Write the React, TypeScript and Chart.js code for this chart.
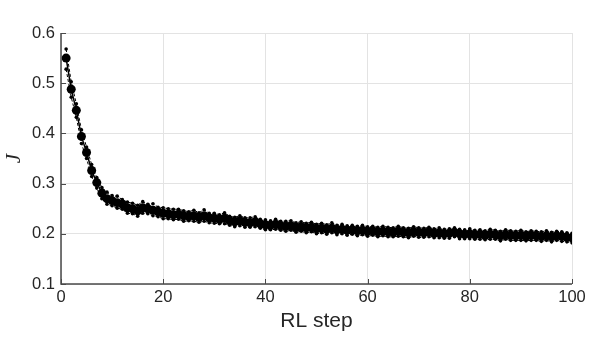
import React, { useEffect, useRef } from "react";
import { Chart, registerables } from "chart.js";

Chart.register(...registerables);

const steps: number[] = Array.from({ length: 100 }, (_, i) => i + 1);

const meanJ: number[] = [
  0.550, 0.488, 0.446, 0.394, 0.362, 0.326, 0.302, 0.281, 0.270, 0.266,
  0.262, 0.259, 0.252, 0.250, 0.246, 0.252, 0.250, 0.247, 0.244, 0.241,
  0.240, 0.238, 0.239, 0.236, 0.235, 0.236, 0.233, 0.236, 0.232, 0.231,
  0.229, 0.231, 0.226, 0.224, 0.226, 0.223, 0.222, 0.224, 0.220, 0.218,
  0.217, 0.219, 0.216, 0.215, 0.216, 0.213, 0.214, 0.212, 0.213, 0.210,
  0.211, 0.209, 0.211, 0.208, 0.209, 0.207, 0.208, 0.206, 0.207, 0.205,
  0.206, 0.204, 0.205, 0.204, 0.203, 0.205, 0.203, 0.202, 0.204, 0.203,
  0.202, 0.204, 0.201, 0.202, 0.200, 0.201, 0.203, 0.200, 0.199, 0.200,
  0.198, 0.199, 0.197, 0.199, 0.198, 0.196, 0.198, 0.197, 0.196, 0.197,
  0.195, 0.197, 0.196, 0.195, 0.196, 0.194, 0.196, 0.195, 0.193, 0.192,
];

const upperJ: number[] = [
  0.568, 0.503, 0.459, 0.407, 0.373, 0.338, 0.312, 0.292, 0.283, 0.276,
  0.275, 0.268, 0.263, 0.261, 0.257, 0.264, 0.259, 0.260, 0.253, 0.252,
  0.250, 0.249, 0.249, 0.246, 0.244, 0.247, 0.242, 0.248, 0.241, 0.241,
  0.238, 0.242, 0.235, 0.233, 0.236, 0.232, 0.232, 0.234, 0.229, 0.228,
  0.226, 0.229, 0.225, 0.225, 0.226, 0.222, 0.224, 0.221, 0.223, 0.219,
  0.221, 0.218, 0.222, 0.217, 0.219, 0.216, 0.217, 0.215, 0.217, 0.214,
  0.215, 0.213, 0.215, 0.213, 0.212, 0.215, 0.212, 0.211, 0.214, 0.212,
  0.211, 0.213, 0.210, 0.212, 0.209, 0.210, 0.212, 0.209, 0.208, 0.210,
  0.207, 0.208, 0.206, 0.209, 0.207, 0.205, 0.208, 0.206, 0.205, 0.207,
  0.204, 0.206, 0.205, 0.204, 0.206, 0.203, 0.205, 0.204, 0.202, 0.201,
];

const lowerJ: number[] = [
  0.528, 0.472, 0.432, 0.380, 0.350, 0.314, 0.291, 0.270, 0.259, 0.256,
  0.251, 0.249, 0.241, 0.240, 0.235, 0.241, 0.240, 0.236, 0.234, 0.230,
  0.230, 0.228, 0.229, 0.225, 0.226, 0.225, 0.223, 0.225, 0.222, 0.221,
  0.220, 0.220, 0.217, 0.214, 0.216, 0.213, 0.213, 0.214, 0.211, 0.208,
  0.208, 0.209, 0.207, 0.205, 0.207, 0.203, 0.205, 0.202, 0.204, 0.200,
  0.202, 0.199, 0.202, 0.198, 0.200, 0.197, 0.199, 0.196, 0.198, 0.195,
  0.197, 0.194, 0.196, 0.194, 0.194, 0.195, 0.194, 0.192, 0.195, 0.193,
  0.193, 0.194, 0.192, 0.192, 0.191, 0.191, 0.194, 0.190, 0.190, 0.190,
  0.189, 0.189, 0.188, 0.189, 0.189, 0.186, 0.189, 0.187, 0.187, 0.187,
  0.186, 0.187, 0.187, 0.185, 0.187, 0.184, 0.187, 0.185, 0.184, 0.182,
];

const xTicks: number[] = [0, 20, 40, 60, 80, 100];
const yTicks: number[] = [0.1, 0.2, 0.3, 0.4, 0.5, 0.6];

const AXIS_COLOR = "#4a4a4a";
const GRID_COLOR = "#e3e3e3";
const TEXT_COLOR = "#262626";
const SANS = "'Liberation Sans', Arial, Helvetica, sans-serif";

const innerTicks = {
  id: "innerTicks",
  afterDatasetsDraw(chart: any) {
    const { ctx, chartArea, scales } = chart;
    const x = scales.x;
    const y = scales.y;
    ctx.save();
    ctx.strokeStyle = AXIS_COLOR;
    ctx.lineWidth = 1;
    ctx.beginPath();
    for (const v of xTicks) {
      const px = Math.round(x.getPixelForValue(v)) + 0.5;
      ctx.moveTo(px, chartArea.bottom);
      ctx.lineTo(px, chartArea.bottom - 5);
    }
    for (const v of yTicks) {
      const py = Math.round(y.getPixelForValue(v)) + 0.5;
      ctx.moveTo(chartArea.left, py);
      ctx.lineTo(chartArea.left + 5, py);
    }
    ctx.stroke();
    ctx.lineWidth = 1.5;
    ctx.beginPath();
    ctx.moveTo(chartArea.left, chartArea.top);
    ctx.lineTo(chartArea.left, chartArea.bottom);
    ctx.lineTo(chartArea.right, chartArea.bottom);
    ctx.stroke();
    ctx.restore();
  },
};

export default function App() {
  const canvasRef = useRef<HTMLCanvasElement | null>(null);

  useEffect(() => {
    document.body.style.margin = "0";
    const canvas = canvasRef.current;
    if (!canvas) return;
    const toPts = (arr: number[]) => steps.map((s, i) => ({ x: s, y: arr[i] }));
    const chart = new Chart(canvas, {
      type: "line",
      data: {
        datasets: [
          {
            label: "upper",
            data: toPts(upperJ),
            borderColor: "#000",
            backgroundColor: "#000",
            borderWidth: 1,
            borderDash: [3, 2],
            pointRadius: 1.8,
            pointBorderWidth: 0,
          },
          {
            label: "lower",
            data: toPts(lowerJ),
            borderColor: "#000",
            backgroundColor: "#000",
            borderWidth: 1,
            borderDash: [3, 2],
            pointRadius: 1.8,
            pointBorderWidth: 0,
          },
          {
            label: "mean",
            data: toPts(meanJ),
            borderColor: "#000",
            backgroundColor: "#000",
            borderWidth: 1.5,
            pointRadius: 4.5,
            pointBorderWidth: 0,
          },
        ],
      },
      options: {
        responsive: false,
        animation: false,
        layout: { padding: { top: 33, right: 26, left: 0, bottom: 20 } },
        plugins: {
          legend: { display: false },
          tooltip: { enabled: false },
        },
        scales: {
          x: {
            type: "linear",
            min: 0,
            max: 100,
            afterBuildTicks: (scale: any) => {
              scale.ticks = xTicks.map((v) => ({ value: v }));
            },
            afterFit: (scale: any) => {
              scale.height = 50;
            },
            grid: { color: GRID_COLOR, drawTicks: false, lineWidth: 1 },
            border: { display: false },
            ticks: {
              color: TEXT_COLOR,
              font: { family: SANS, size: 16.5 },
              padding: 4,
              maxRotation: 0,
            },
            title: {
              display: true,
              text: "RL step",
              color: TEXT_COLOR,
              font: { family: SANS, size: 21 },
              padding: { top: 0, bottom: 0 },
            },
          },
          y: {
            type: "linear",
            min: 0.1,
            max: 0.6,
            afterBuildTicks: (scale: any) => {
              scale.ticks = yTicks.map((v) => ({ value: v }));
            },
            afterFit: (scale: any) => {
              scale.width = 61;
            },
            grid: { color: GRID_COLOR, drawTicks: false, lineWidth: 1 },
            border: { display: false },
            ticks: {
              color: TEXT_COLOR,
              font: { family: SANS, size: 16.5 },
              padding: 6,
              callback: (v: any) => Number(v).toFixed(1),
            },
            title: {
              display: true,
              text: "J",
              color: TEXT_COLOR,
              font: { family: "'Liberation Serif', 'Times New Roman', serif", size: 21, style: "italic" },
              padding: { top: 2, bottom: 0 },
            },
          },
        },
      },
      plugins: [innerTicks],
    });
    return () => chart.destroy();
  }, []);

  return (
    <div style={{ position: "absolute", left: 0, top: 0, width: 598, height: 354 }}>
      <canvas ref={canvasRef} width={598} height={354} />
    </div>
  );
}
